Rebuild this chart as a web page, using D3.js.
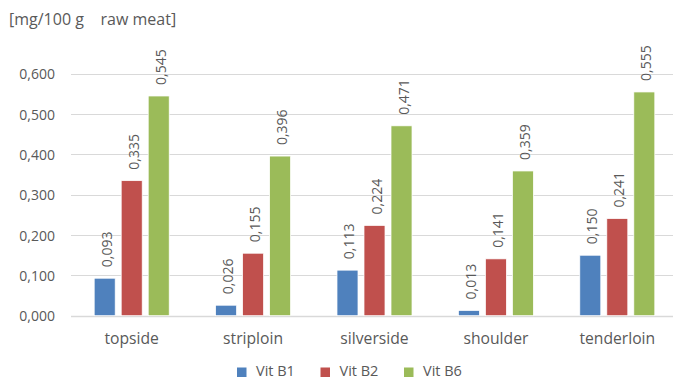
<!DOCTYPE html>
<html>
<head>
<meta charset="utf-8">
<script src="https://cdn.jsdelivr.net/npm/d3@7"></script>
<style>
  html, body { margin: 0; padding: 0; background: #fff; }
  svg { display: block; font-family: "Open Sans", "Liberation Sans", sans-serif; }
</style>
</head>
<body>
<svg id="chart" width="673" height="379"></svg>
<script>
// Vitamin content of beef cuts, mg per 100 g raw meat
const categories = ["topside", "striploin", "silverside", "shoulder", "tenderloin"];
const seriesNames = ["Vit B1", "Vit B2", "Vit B6"];
const vitB1 = [0.093, 0.026, 0.113, 0.013, 0.150];
const vitB2 = [0.335, 0.155, 0.224, 0.141, 0.241];
const vitB6 = [0.545, 0.396, 0.471, 0.359, 0.555];
const colors = ["#4F81BD", "#C0504D", "#9BBB59"];
const yTicks = [0, 0.1, 0.2, 0.3, 0.4, 0.5, 0.6];
const yTitle = "[mg/100 g\u00a0\u00a0\u00a0\u00a0raw meat]";

const series = [vitB1, vitB2, vitB6];
const fmt = v => d3.format(".3f")(v).replace(".", ",");

const svg = d3.select("#chart");
const textColor = "#595959";

const y = d3.scaleLinear().domain([0, 0.7]).range([315.7, 33.5]);
const x0 = d3.scaleBand().domain(categories).range([71, 678])
  .paddingInner(0.382).paddingOuter(0.191);
const x1 = d3.scaleBand().domain(d3.range(seriesNames.length))
  .range([0, x0.bandwidth()]).paddingInner(0.222).paddingOuter(0);

// gridlines
svg.append("g").selectAll("line").data(yTicks).join("line")
  .attr("x1", 71).attr("x2", 673)
  .attr("y1", d => Math.round(y(d)) + 0.5).attr("y2", d => Math.round(y(d)) + 0.5)
  .attr("stroke", "#d9d9d9").attr("stroke-width", d => d === 0 ? 1.5 : 1);

// y tick labels
svg.append("g").selectAll("text").data(yTicks).join("text")
  .attr("x", 55).attr("y", d => y(d))
  .attr("text-anchor", "end").attr("dominant-baseline", "central")
  .attr("fill", textColor).style("font-size", "14px")
  .text(fmt);

// y title
svg.append("text").attr("x", 9).attr("y", 25)
  .attr("fill", textColor).style("font-size", "16px").text(yTitle);

// bars
const groups = svg.append("g").selectAll("g").data(categories).join("g")
  .attr("transform", d => `translate(${x0(d)},0)`);

groups.each(function(cat, ci) {
  const g = d3.select(this);
  series.forEach((vals, si) => {
    const v = vals[ci];
    const bx = x1(si);
    g.append("rect")
      .attr("x", bx).attr("width", x1.bandwidth())
      .attr("y", y(v)).attr("height", y(0) - y(v))
      .attr("fill", colors[si]).attr("stroke", "#fff").attr("stroke-width", 0.75);
    const cx = bx + x1.bandwidth() / 2 + 1.5;
    const ty = y(v) - 11;
    g.append("text")
      .attr("transform", `translate(${cx},${ty}) rotate(-90)`)
      .attr("dominant-baseline", "central")
      .attr("fill", textColor).style("font-size", "14px")
      .text(fmt(v));
  });
});

// category labels
svg.append("g").selectAll("text").data(categories).join("text")
  .attr("x", d => x0(d) + x0.bandwidth() / 2).attr("y", 344)
  .attr("text-anchor", "middle").attr("fill", textColor)
  .style("font-size", "15.7px").text(d => d);

// legend
const legendX = [237, 320.5, 404];
const legend = svg.append("g").selectAll("g").data(seriesNames).join("g")
  .attr("transform", (d, i) => `translate(${legendX[i]},367.5)`);
legend.append("rect").attr("width", 9.5).attr("height", 9.5)
  .attr("fill", (d, i) => colors[i]);
legend.append("text").attr("x", 19).attr("y", 8)
  .attr("fill", textColor).style("font-size", "14.5px").text(d => d);
</script>
</body>
</html>
